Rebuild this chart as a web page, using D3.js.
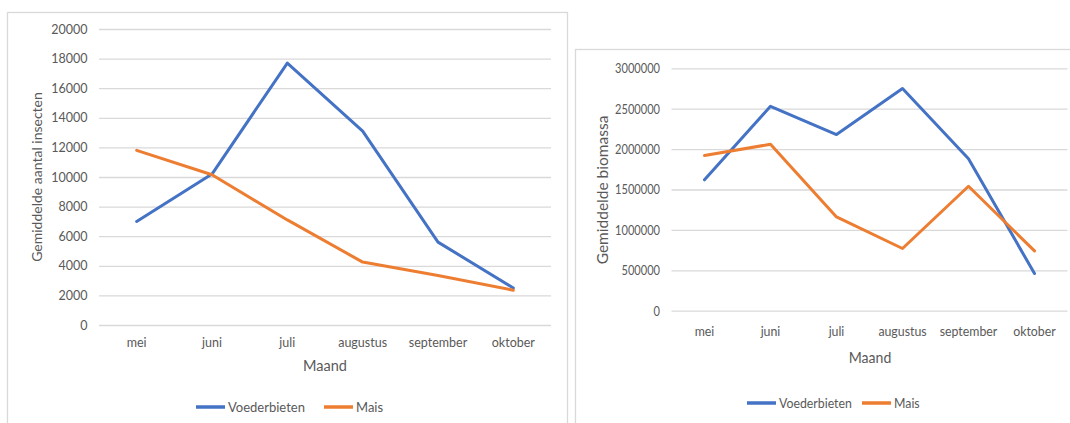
<!DOCTYPE html>
<html lang="nl">
  <head>
    <meta charset="UTF-8" />
    <title>Insecten per maand</title>
    <style>
      body { margin: 0; background: #fff; }
      svg text { font-family: Lato, "Open Sans", sans-serif; fill: #595959; }
    </style>
  </head>
  <body>
    <div id="chart"></div>

    <script src="https://cdn.jsdelivr.net/npm/d3@7"></script>
    <script>
      // data
      var maanden = ["mei", "juni", "juli", "augustus", "september", "oktober"];
      var series = ["Voederbieten", "Mais"];

      var insectenVoederbieten = [7000, 10200, 17700, 13100, 5600, 2500];
      var insectenMais = [11800, 10150, 7100, 4250, 3350, 2350];
      var insectenTicks = [0, 2000, 4000, 6000, 8000, 10000, 12000, 14000, 16000, 18000, 20000];

      var biomassaVoederbieten = [1620000, 2530000, 2180000, 2750000, 1880000, 460000];
      var biomassaMais = [1920000, 2060000, 1160000, 770000, 1540000, 740000];
      var biomassaTicks = [0, 500000, 1000000, 1500000, 2000000, 2500000, 3000000];

      var colors = ["#4472C4", "#ED7D31"];

      var width = 1070;
      var height = 423;

      var svg = d3.select("#chart")
                  .append("svg")
                  .attr("width", width)
                  .attr("height", height);

      // the screenshot squeezes the text sideways, so narrow it a bit
      function squeeze(sel, factor) {
        if (factor == 1) return;
        sel.each(function() {
          var w = this.getComputedTextLength();
          d3.select(this)
            .attr("textLength", w * factor)
            .attr("lengthAdjust", "spacingAndGlyphs");
        });
      }

      function drawChart(opts) {
        var g = svg.append("g");

        // chart frame
        g.append("rect")
         .attr("x", opts.frame[0] + 0.5)
         .attr("y", opts.frame[1] + 0.5)
         .attr("width", opts.frame[2])
         .attr("height", opts.frame[3])
         .attr("fill", "#fff")
         .attr("stroke", "#d9d9d9")
         .attr("stroke-width", 1.3);

        var xScale = d3.scalePoint()
                       .domain(maanden)
                       .range([opts.left, opts.right])
                       .padding(0.5);

        var yScale = d3.scaleLinear()
                       .domain([0, d3.max(opts.ticks)])
                       .range([opts.bottom, opts.top]);

        var yAxis = d3.axisLeft(yScale)
                      .tickValues(opts.ticks)
                      .tickFormat(d3.format("d"))
                      .tickSize(-(opts.right - opts.left))
                      .tickPadding(opts.tickPad);

        var ya = g.append("g")
                  .attr("transform", "translate(" + opts.left + ",0)")
                  .call(yAxis);
        ya.select(".domain").remove();
        ya.selectAll(".tick line")
          .attr("stroke", "#d9d9d9")
          .attr("stroke-width", 1.3);
        ya.selectAll(".tick text")
          .attr("font-size", opts.fontSize + "px")
          .attr("font-family", null)
          .attr("fill", "#595959")
          .call(squeeze, opts.tickSqueeze);

        // month labels
        g.selectAll(".month")
         .data(maanden)
         .enter()
         .append("text")
         .attr("class", "month")
         .attr("x", function(d) { return xScale(d); })
         .attr("y", opts.monthY)
         .attr("dy", "0.35em")
         .attr("text-anchor", "middle")
         .attr("font-size", opts.fontSize + "px")
         .text(function(d) { return d; })
         .call(squeeze, opts.textSqueeze);

        g.append("text")
         .attr("x", opts.xTitle[0])
         .attr("y", opts.xTitle[1])
         .attr("dy", "0.35em")
         .attr("text-anchor", "middle")
         .attr("font-size", (opts.fontSize + 2) + "px")
         .text("Maand")
         .call(squeeze, opts.textSqueeze);

        g.append("text")
         .attr("transform", "translate(" + opts.yTitle[0] + "," + opts.yTitle[1] + ") rotate(-90)")
         .attr("dy", "0.35em")
         .attr("text-anchor", "middle")
         .attr("font-size", opts.yTitleSize + "px")
         .text(opts.yLabel);

        var line = d3.line()
                     .x(function(d, i) { return xScale(maanden[i]); })
                     .y(function(d) { return yScale(d); });

        opts.values.forEach(function(vals, i) {
          g.append("path")
           .datum(vals)
           .attr("d", line)
           .attr("fill", "none")
           .attr("stroke", colors[i])
           .attr("stroke-width", 3)
           .attr("stroke-linejoin", "round")
           .attr("stroke-linecap", "round");
        });

        // legend
        series.forEach(function(s, i) {
          var lx = opts.legend[i];
          g.append("line")
           .attr("x1", lx)
           .attr("x2", lx + 29)
           .attr("y1", opts.legendY)
           .attr("y2", opts.legendY)
           .attr("stroke", colors[i])
           .attr("stroke-width", 3.5);
          g.append("text")
           .attr("x", lx + 32)
           .attr("y", opts.legendY)
           .attr("dy", "0.35em")
           .attr("font-size", opts.legendSize + "px")
           .text(s)
           .call(squeeze, opts.textSqueeze);
        });
      }

      drawChart({
        frame: [7, 12, 560, 420],
        left: 99, right: 551, top: 29, bottom: 325,
        ticks: insectenTicks,
        values: [insectenVoederbieten, insectenMais],
        tickPad: 11.5,
        fontSize: 12.5,
        tickSqueeze: 1,
        textSqueeze: 1,
        yTitleSize: 14,
        legendSize: 13,
        monthY: 343,
        xTitle: [325, 366],
        yTitle: [37.5, 177],
        yLabel: "Gemiddelde aantal insecten",
        legend: [196, 324],
        legendY: 407
      });

      drawChart({
        frame: [575, 49, 510, 390],
        left: 671.5, right: 1067.5, top: 68.3, bottom: 310.7,
        ticks: biomassaTicks,
        values: [biomassaVoederbieten, biomassaMais],
        tickPad: 11.5,
        fontSize: 14,
        tickSqueeze: 0.79,
        textSqueeze: 0.88,
        yTitleSize: 15.5,
        legendSize: 14,
        monthY: 331.5,
        xTitle: [870, 357],
        yTitle: [603, 190],
        yLabel: "Gemiddelde biomassa",
        legend: [747, 862],
        legendY: 403
      });
    </script>
  </body>
</html>
